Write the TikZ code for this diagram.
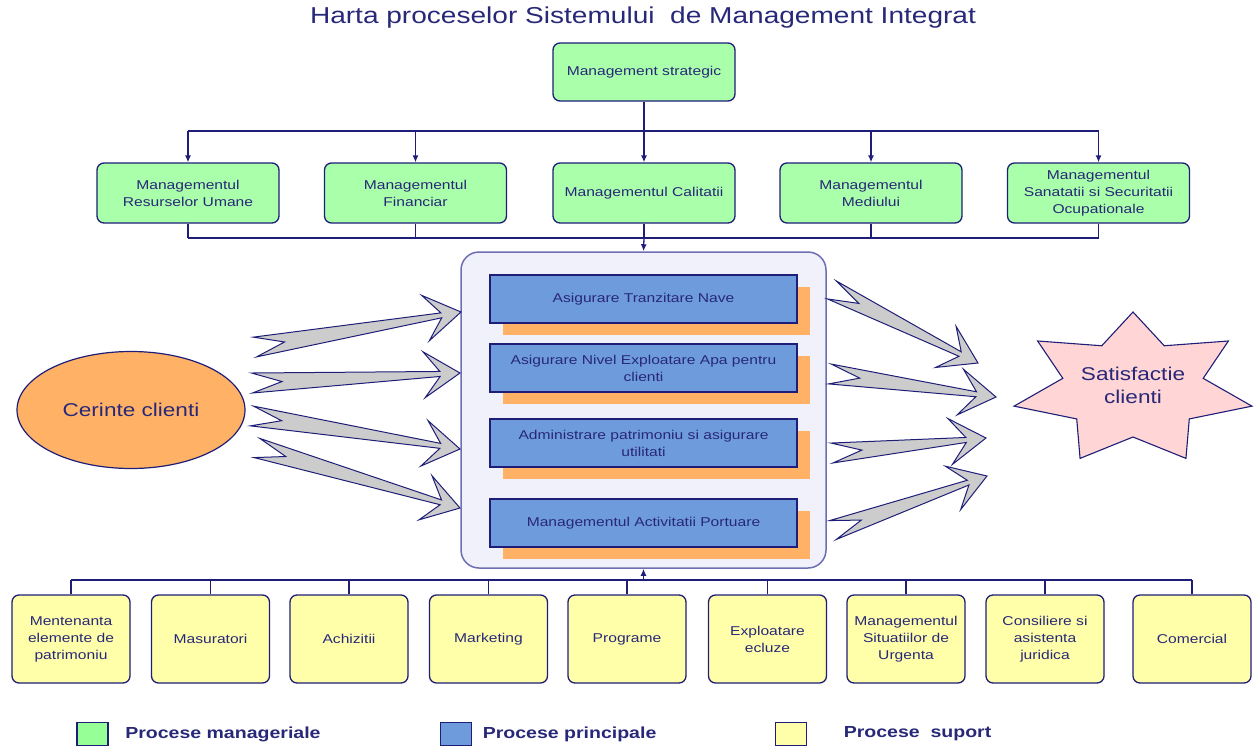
\documentclass[tikz,border=0pt]{standalone}
\usepackage{fontspec}
\setmainfont[FakeStretch=1.22]{Liberation Sans}
\usetikzlibrary{arrows.meta,calc,shadows,positioning,shapes.geometric}

\definecolor{navy}{RGB}{30,30,120}
\definecolor{txtblue}{RGB}{40,40,120}
\definecolor{mgreen}{RGB}{170,255,170}
\definecolor{leggreen}{RGB}{150,255,150}
\definecolor{pblue}{RGB}{110,155,220}
\definecolor{sorange}{RGB}{255,178,102}
\definecolor{syellow}{RGB}{255,255,170}
\definecolor{lilac}{RGB}{241,241,251}
\definecolor{framecol}{RGB}{110,110,180}
\definecolor{starpink}{RGB}{255,213,213}

\tikzset{
  mgmt/.style={draw=navy, line width=1.3pt, fill=mgreen, rounded corners=7pt,
    minimum width=182pt, minimum height=60pt, align=center, text=txtblue,
    font=\fontsize{12.8}{17}\selectfont},
  mainproc/.style={draw=navy, line width=1.3pt, fill=pblue,
    minimum width=307pt, minimum height=48pt, align=center, text=txtblue,
    font=\fontsize{12.8}{17}\selectfont,
    drop shadow={shadow xshift=13pt, shadow yshift=-12pt, fill=sorange, opacity=1}},
  supp/.style={draw=navy, line width=1.3pt, fill=syellow, rounded corners=7pt,
    minimum width=118pt, minimum height=88pt, align=center, text=txtblue,
    font=\fontsize{12.8}{17}\selectfont},
  busline/.style={draw=navy, line width=1.3pt},
  busarrow/.style={-{Latex[length=7pt,width=6pt]}},
  bigarr/.style={draw=navy, line width=1pt, fill=black!20, line join=miter},
  legbox/.style={draw=navy, line width=1.5pt, minimum width=31pt,
    minimum height=23pt, inner sep=0pt},
  legtext/.style={text=txtblue, font=\bfseries\fontsize{16}{18}\selectfont},
}

% gray arrow from tail (#1) to tip (#2)
\newcommand\bigarrow[2]{%
  \coordinate (hb) at ($(#2)!20pt!(#1)$);
  \coordinate (bb) at ($(#2)!36pt!(#1)$);
  \draw[bigarr] ($(#1)!10pt!90:(#2)$) -- ($(hb)!2.5pt!90:(#2)$)
    -- ($(bb)!23pt!90:(#2)$) -- (#2) -- ($(bb)!23pt!-90:(#2)$)
    -- ($(hb)!2.5pt!-90:(#2)$) -- ($(#1)!10pt!-90:(#2)$)
    -- ($(#1)!30pt!(#2)$) -- cycle;}

\begin{document}
\begin{tikzpicture}[x=1pt,y=-1pt]
\useasboundingbox (0,0) rectangle (1258,747);

\node[text=txtblue, font=\fontsize{23}{26}\selectfont] (title) at (643,18)
  {Harta proceselor Sistemului\ \ de Management Integrat};

% procese manageriale
\node[mgmt, minimum height=58pt] (strat) at (644,72) {Management strategic};
\node[mgmt] (m1) at (188,193) {Managementul\\Resurselor Umane};
\node[mgmt] (m2) at (415.5,193) {Managementul\\Financiar};
\node[mgmt] (m3) at (644,193) {Managementul Calitatii};
\node[mgmt] (m4) at (871,193) {Managementul\\Mediului};
\node[mgmt] (m5) at (1098.5,193) {Managementul\\Sanatatii si Securitatii\\Ocupationale};

\coordinate (top) at (644,131);
\coordinate (mid) at (644,238);
\draw[busline] (strat) -- (top);
\draw[busline] (m1.north |- top) -- (m5.north |- top);
\foreach \i in {1,...,5}
  \draw[busline,busarrow] (m\i.north |- top) -- (m\i.north);
\foreach \i in {1,...,5}
  \draw[busline] (m\i.south) -- (m\i.south |- mid);
\draw[busline] (m1.south |- mid) -- (m5.south |- mid);

% procese principale
\node[draw=framecol, line width=1.5pt, fill=lilac, rounded corners=18pt,
  minimum width=365pt, minimum height=316pt] (core) at (643.5,410) {};
\draw[busline,busarrow] (mid) -- (core.north);
\node[mainproc] (p1) at (643.5,299) {Asigurare Tranzitare Nave};
\node[mainproc] (p2) at (643.5,368) {Asigurare Nivel Exploatare Apa pentru\\clienti};
\node[mainproc] (p3) at (643.5,443) {Administrare patrimoniu si asigurare\\utilitati};
\node[mainproc] (p4) at (643.5,523) {Managementul Activitatii Portuare};

% clienti
\node[ellipse, draw=navy, line width=1.2pt, fill=sorange, minimum width=228pt,
  minimum height=117pt, text=txtblue, font=\fontsize{18.5}{21}\selectfont]
  (req) at (131,410) {Cerinte clienti};
\draw[draw=navy, line width=1.1pt, fill=starpink]
  plot[samples at={0,...,13}, variable=\k]
  ({1133+ifthenelse(mod(\k,2)==0,122,72)*cos(90+\k*360/14)},
   {389-ifthenelse(mod(\k,2)==0,77,48)*sin(90+\k*360/14)}) -- cycle;
\node[text=txtblue, align=center, font=\fontsize{18.5}{23}\selectfont]
  (sat) at (1133,385) {Satisfactie\\clienti};

\foreach \xa/\ya/\xb/\yb in {255/347/461/312, 252/383/460/373, 252/416/460/449,
    257/448/460/508, 832/290/978/363, 830/374/996/397, 832/453/986/438,
    833/530/987/476}{
  \coordinate (ta) at (\xa,\ya);
  \coordinate (tb) at (\xb,\yb);
  \bigarrow{ta}{tb}
}

% procese suport
\node[supp] (s1) at (71,639) {Mentenanta\\elemente de\\patrimoniu};
\node[supp] (s2) at (210.5,639) {Masuratori};
\node[supp] (s3) at (349,639) {Achizitii};
\node[supp] (s4) at (488.5,639) {Marketing};
\node[supp] (s5) at (627,639) {Programe};
\node[supp] (s6) at (767.5,639) {Exploatare\\ecluze};
\node[supp] (s7) at (906,639) {Managementul\\Situatiilor de\\Urgenta};
\node[supp] (s8) at (1045,639) {Consiliere si\\asistenta\\juridica};
\node[supp] (s9) at (1192,639) {Comercial};

\coordinate (low) at (643.5,580);
\draw[busline] (s1.north |- low) -- (s9.north |- low);
\foreach \i in {1,...,9}
  \draw[busline] (s\i.north) -- (s\i.north |- low);
\draw[busline,busarrow] (low) -- (core.south);

% legenda
\node[legbox, fill=leggreen] (lg1) at (92.5,734) {};
\node[legtext, right=13pt of lg1] (lt1) {Procese manageriale};
\node[legbox, fill=pblue] (lg2) at (456,734) {};
\node[legtext, right=7pt of lg2] (lt2) {Procese principale};
\node[legbox, fill=syellow] (lg3) at (791,734) {};
\node[legtext, right=33pt of lg3] (lt3) {Procese\ \ suport};
\end{tikzpicture}
\end{document}
